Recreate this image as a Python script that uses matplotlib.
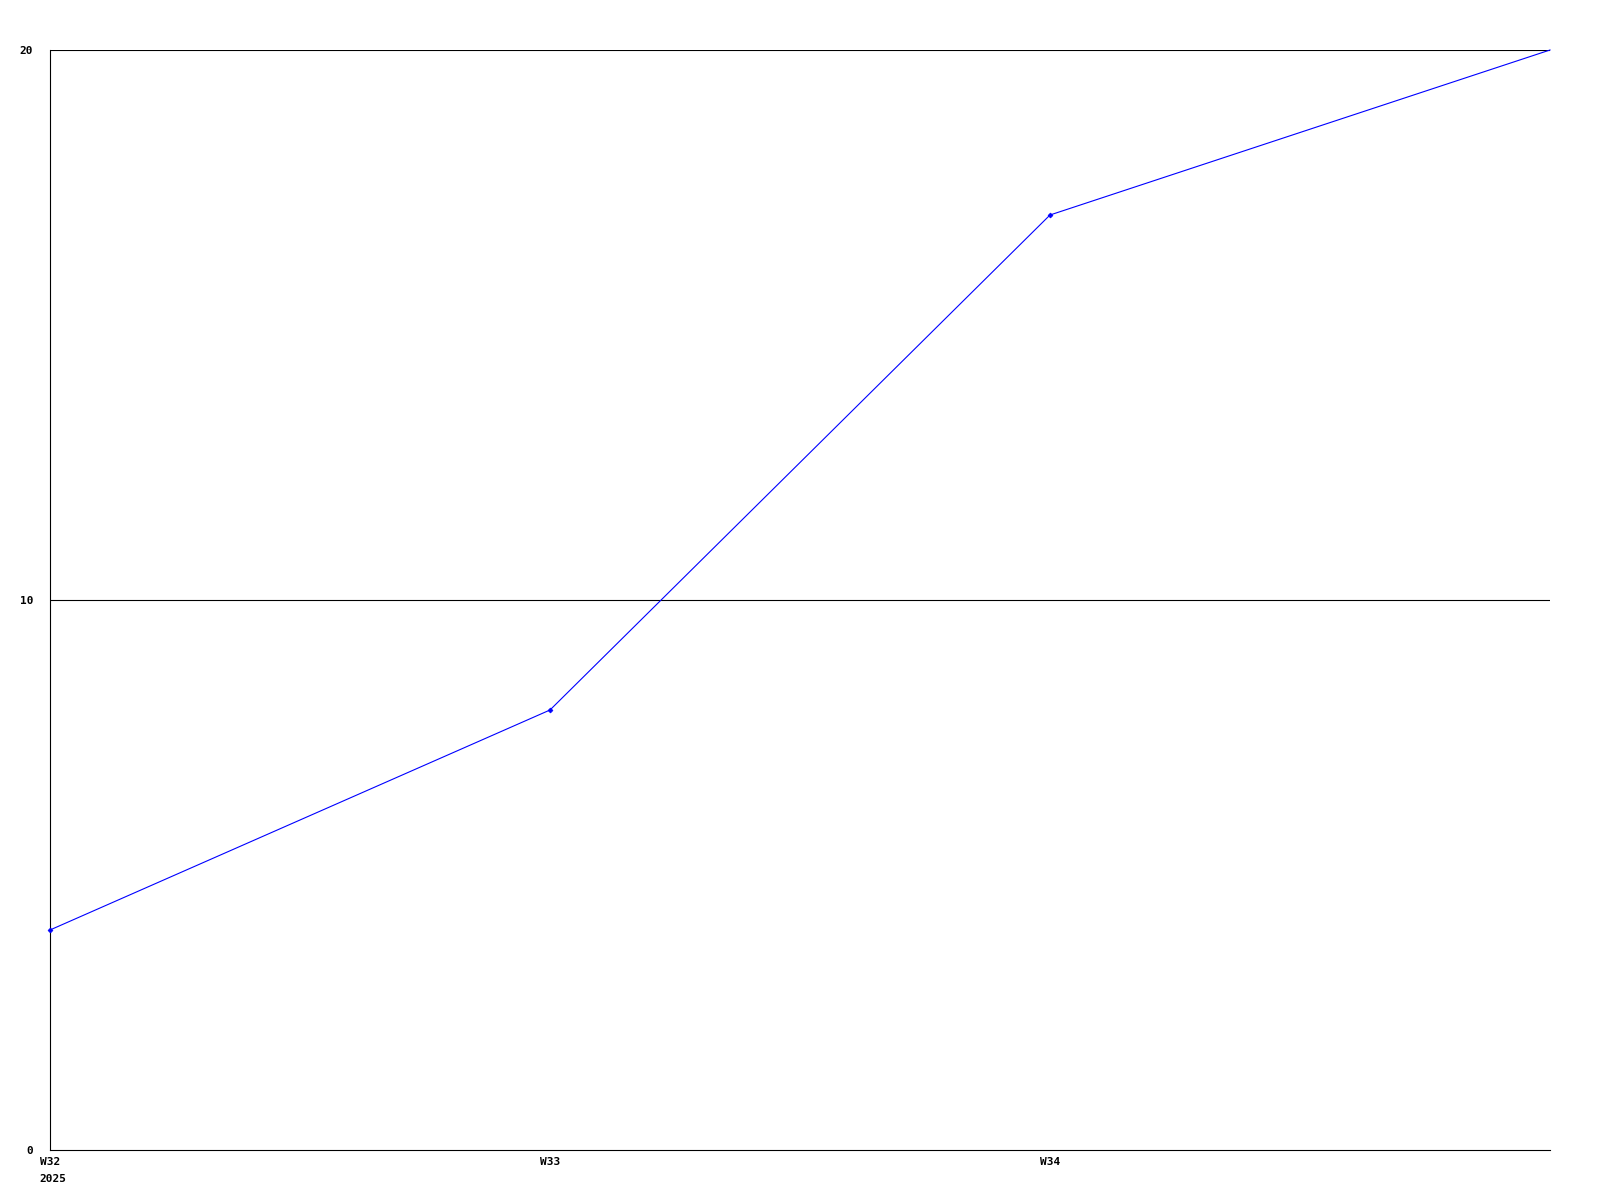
import matplotlib
matplotlib.use('Agg')
import matplotlib.pyplot as plt
import numpy as np

weeks = ['W32', 'W33', 'W34', 'W35']
labeled_weeks = ['W32', 'W33', 'W34']
year_label = '2025'
values = [4, 8, 17, 20]
y_ticks = [0, 10, 20]

plt.rcParams['font.family'] = ['DejaVu Sans Mono']
plt.rcParams['font.weight'] = 'bold'
plt.rcParams['font.size'] = 8

fig = plt.figure(figsize=(16, 12), dpi=100)
ax = fig.add_axes([50 / 1600, 50 / 1200, 1500 / 1600, 1100 / 1200])

x = np.arange(len(weeks))
ax.plot(x, values, color='#0000ff', linewidth=0.8, marker='D', markersize=2.5,
        markeredgewidth=0.5, markevery=list(range(len(weeks) - 1)),
        clip_on=False, zorder=3)

ax.set_xlim(x[0], x[-1])
ax.set_ylim(y_ticks[0], y_ticks[-1])

ax.set_yticks(y_ticks)
ax.set_yticklabels([str(t) for t in y_ticks], fontweight='bold')
ax.set_xticks(x[:len(labeled_weeks)])
ax.set_xticklabels(labeled_weeks, fontweight='bold')
ax.tick_params(axis='both', length=0)
ax.tick_params(axis='y', pad=12)
ax.tick_params(axis='x', pad=5)

for s in ['top', 'right']:
    ax.spines[s].set_visible(False)
for s in ['left', 'bottom']:
    ax.spines[s].set_linewidth(0.8)
    ax.spines[s].set_color('black')

for t in y_ticks[1:]:
    ax.axhline(t, color='black', linewidth=0.8, zorder=1)

# year below the first week label, left aligned with it
ax.annotate(year_label, xy=(x[0], 0), xycoords=('data', 'axes fraction'),
            xytext=(-7.3, -17), textcoords='offset points',
            ha='left', va='top', fontweight='bold')

fig.savefig('out.png', dpi=100, facecolor='white')
